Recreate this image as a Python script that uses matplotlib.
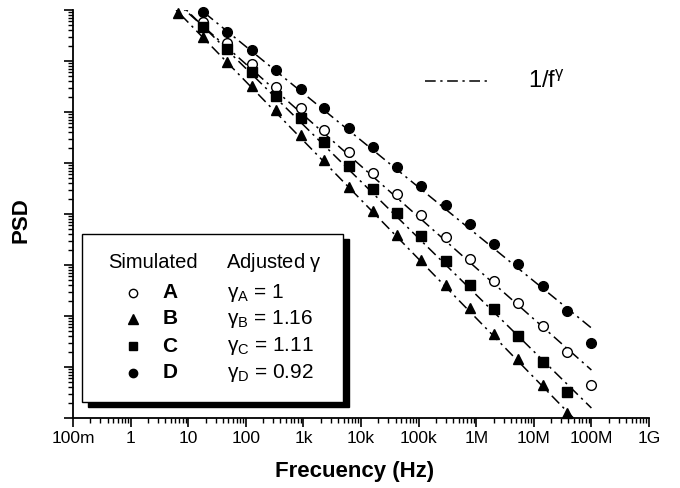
import numpy as np
import matplotlib
matplotlib.use("Agg")
import matplotlib.pyplot as plt
from matplotlib.ticker import LogLocator, FixedLocator, FixedFormatter, NullFormatter
from matplotlib.patches import Rectangle
from matplotlib.lines import Line2D

plt.rcParams['font.family'] = ['Liberation Sans', 'DejaVu Sans']
plt.rcParams['mathtext.fontset'] = 'custom'
plt.rcParams['mathtext.rm'] = 'Liberation Sans'
plt.rcParams['mathtext.it'] = 'Liberation Sans'
plt.rcParams['mathtext.bf'] = 'Liberation Sans:bold'

# Frequencies (Hz)
freq = [6.6, 18, 47, 128, 334, 900, 2.3e3, 6.2e3, 1.6e4, 4.2e4, 1.1e5,
        3.0e5, 7.8e5, 2.0e6, 5.3e6, 1.45e7, 3.8e7, 1e8]

# Simulated PSD (arbitrary units)
psd_A = [5.82e7, 2.25e7, 8.73e6, 3.09e6, 1.20e6, 4.44e5, 1.64e5, 6.37e4, 2.47e4,
         9.55e3, 3.54e3, 1.31e3, 485, 180, 63.7, 19.7, 4.44]
psd_B = [8.73e7, 2.96e7, 9.55e6, 3.24e6, 1.09e6, 3.54e5, 1.15e5, 3.38e4, 1.15e4,
         3.87e3, 1.25e3, 406, 144, 44.4, 14.4, 4.44, 1.25]
psd_C = [4.65e7, 1.72e7, 6.08e6, 2.06e6, 7.62e5, 2.58e5, 8.73e4, 3.09e4, 1.05e4,
         3.71e3, 1.20e3, 406, 137, 40.6, 12.5, 3.24]
psd_D = [9.14e7, 3.71e7, 1.64e7, 6.67e6, 2.82e6, 1.20e6, 4.85e5, 2.06e5, 8.36e4,
         3.54e4, 1.50e4, 6.37e3, 2.58e3, 1.05e3, 387, 125, 29.6]

names = ['A', 'B', 'C', 'D']
gammas = [1, 1.16, 1.11, 0.92]
gamma_labels = ['1', '1.16', '1.11', '0.92']
fit_at_100M = [8.73, 0.434, 1.57, 58.2]   # fitted 1/f^gamma value at 100 MHz

xtick_vals = [1e-1, 1, 1e1, 1e2, 1e3, 1e4, 1e5, 1e6, 1e7, 1e8, 1e9]
xtick_labels = ['100m', '1', '10', '100', '1k', '10k', '100k', '1M', '10M', '100M', '1G']

W, H = 680, 488
fig = plt.figure(figsize=(W / 100, H / 100), dpi=100)
ax = fig.add_axes([73 / W, 1 - 418 / H, (649 - 73) / W, (418 - 10) / H])

series = [
    (freq[1:], psd_A, dict(marker='o', mfc='white', mec='black', ms=7, mew=1)),
    (freq[:17], psd_B, dict(marker='^', mfc='black', mec='black', ms=7.5)),
    (freq[1:17], psd_C, dict(marker='s', mfc='black', mec='black', ms=6.5)),
    (freq[1:], psd_D, dict(marker='o', mfc='black', mec='black', ms=7)),
]

dash = (0, (7, 3, 1.5, 3))
f_line = np.logspace(np.log10(3), 8, 200)
for (fx, py, style), g, k in zip(series, gammas, fit_at_100M):
    ax.plot(f_line, k * (f_line / 1e8) ** (-g), color='black', lw=1.1, linestyle=dash, zorder=2)
    ax.plot(fx, py, linestyle='none', zorder=3, clip_on=False, **style)

ax.set_xscale('log')
ax.set_yscale('log')
ax.set_xlim(1e-1, 1e9)
ax.set_ylim(1, 1e8)

ax.spines['top'].set_visible(False)
ax.spines['right'].set_visible(False)
ax.spines['left'].set_linewidth(1.3)
ax.spines['bottom'].set_linewidth(1.3)

ax.xaxis.set_major_locator(FixedLocator(xtick_vals))
ax.xaxis.set_major_formatter(FixedFormatter(xtick_labels))
ax.xaxis.set_minor_locator(LogLocator(base=10, subs=np.arange(2, 10), numticks=100))
ax.xaxis.set_minor_formatter(NullFormatter())
ax.yaxis.set_major_locator(LogLocator(base=10, numticks=20))
ax.yaxis.set_minor_locator(LogLocator(base=10, subs=np.arange(2, 10), numticks=100))
ax.yaxis.set_major_formatter(NullFormatter())
ax.yaxis.set_minor_formatter(NullFormatter())
ax.tick_params(which='major', direction='out', length=6.5, width=1.2, labelsize=12.5, pad=3)
ax.tick_params(which='minor', direction='out', length=3.5, width=1)

fig.text(355 / W, 1 - 472 / H, 'Frecuency (Hz)', ha='center', va='center',
         fontsize=16, fontweight='bold')
fig.text(21 / W, 1 - 220 / H, 'PSD', ha='center', va='center', rotation=90,
         fontsize=16, fontweight='bold')

# 1/f^gamma key
fig.add_artist(Line2D([425 / W, 488 / W], [1 - 81 / H, 1 - 81 / H], color='black',
                      lw=1.1, linestyle=dash))
fig.text(528 / W, 1 - 82 / H, r'1/f$^{\gamma}$', ha='left', va='center', fontsize=17)

# boxed legend with shadow
fig.add_artist(Rectangle((88 / W, 1 - 407 / H), (343 - 82) / W, (402 - 234) / H,
                         transform=fig.transFigure, facecolor='black', edgecolor='black',
                         zorder=5))
fig.add_artist(Rectangle((82 / W, 1 - 402 / H), (343 - 82) / W, (402 - 234) / H,
                         transform=fig.transFigure, facecolor='white', edgecolor='black',
                         lw=1, zorder=6))
fig.text(108 / W, 1 - 263 / H, 'Simulated', ha='left', va='center', fontsize=14.5, zorder=7)
fig.text(226 / W, 1 - 263 / H, r'Adjusted $\gamma$', ha='left', va='center', fontsize=14.5,
         zorder=7)
rows = [293, 319, 346, 373]
for (fx, py, style), name, gl, ry in zip(series, names, gamma_labels, rows):
    st = dict(style)
    st['ms'] = st['ms'] - 1
    fig.add_artist(Line2D([133 / W], [1 - ry / H], linestyle='none', zorder=7, **st))
    fig.text(170 / W, 1 - ry / H, name, ha='center', va='center', fontsize=15,
             fontweight='bold', zorder=7)
    fig.text(227 / W, 1 - ry / H, r'$\gamma_{\mathrm{%s}}$ = %s' % (name, gl), ha='left',
             va='center', fontsize=15, zorder=7)

fig.savefig('out.png', dpi=100)
